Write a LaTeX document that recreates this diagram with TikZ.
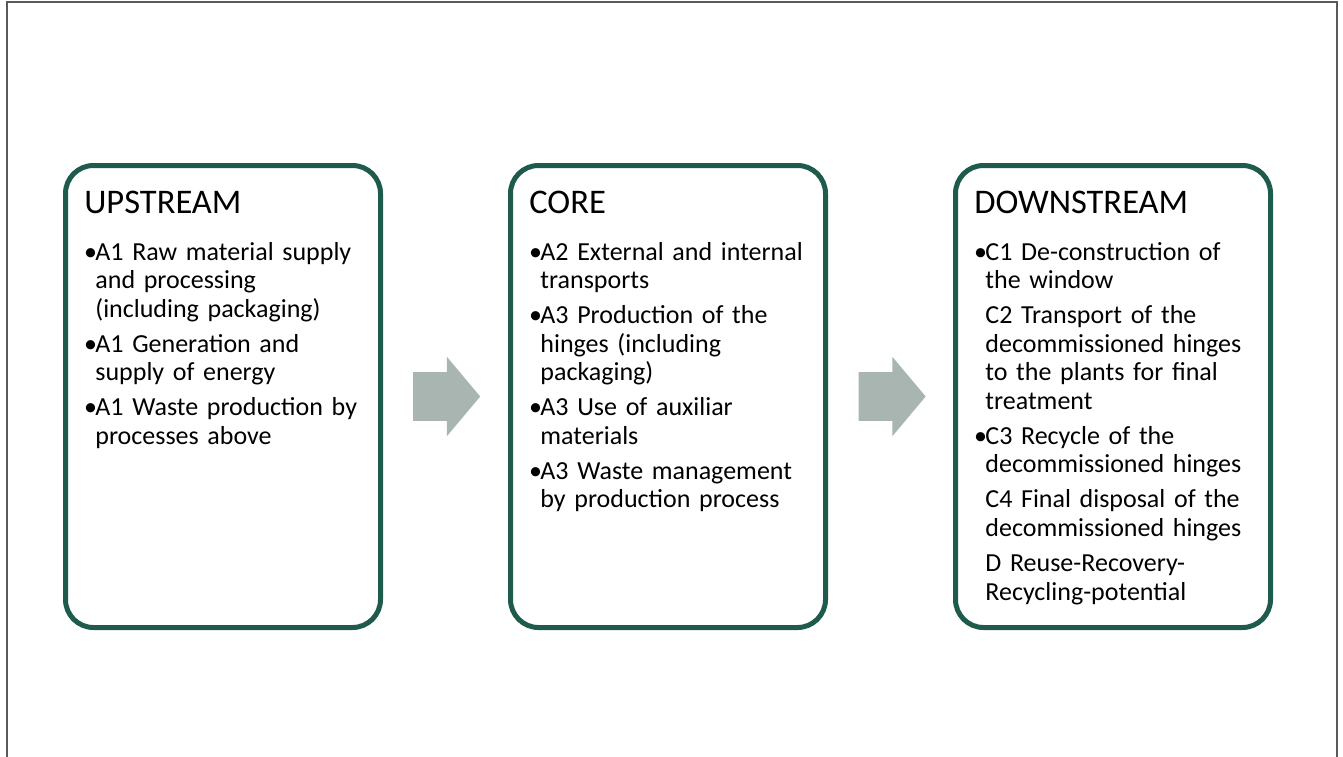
\documentclass[tikz,border=0pt]{standalone}
\usepackage{fontspec}
\setmainfont{Carlito}
\usepackage{tikz}
\usetikzlibrary{shapes.arrows}
\definecolor{stagegreen}{HTML}{1E5B4C}
\definecolor{flowgray}{HTML}{A9B5B0}
\definecolor{framegray}{HTML}{595959}
\tikzset{stage/.style={draw=stagegreen, line width=3.75pt, rounded corners=21pt,
    minimum width=236.25pt, minimum height=346.5pt, inner sep=0pt}}
\tikzset{stagehead/.style={anchor=base west, inner sep=0pt,
    font=\fontsize{25.9pt}{31pt}\selectfont}}
\tikzset{stagelist/.style={anchor=base west, inner sep=0pt, text width=250pt,
    align=left, font=\fontsize{19.5pt}{21.4pt}\selectfont}}
\tikzset{flow/.style={single arrow, fill=flowgray, single arrow head extend=11.6pt,
    single arrow tip angle=100, minimum height=50.25pt, inner xsep=0pt,
    inner ysep=18pt, outer sep=0pt}}
\newcommand{\bul}{\makebox[7.6pt][l]{\hspace*{-0.9pt}•}}
\newcommand{\ind}{\hspace*{7.6pt}}

\begin{document}
\begin{tikzpicture}[x=0.75pt, y=-0.75pt]
        \useasboundingbox (0,0) rectangle (1343,757);
        \draw[framegray, line width=1.5pt] (7,770) |- (1336.5,2) -- (1336.5,770);

            \node[stage] (up) at (223,396.5) {};
            \node[stage] (core) at (668,396.5) {};
            \node[stage] (down) at (1113,396.5) {};

            \node[flow] (F1) at (436.5,396.5) {};
            \node[flow] (F2) at (882,396.5) {};

            \node[stagehead] (uphead) at (84,213) {UPSTREAM};
            \node[stagehead] (corehead) at (529,213) {CORE};
            \node[stagehead] (downhead) at (974,213) {DOWNSTREAM};

            \node[stagelist] (uplist) at (85,260) {\bul A1 Raw material supply\\
                \ind and processing\\
                \ind (including packaging)\\[4.9pt]
                \bul A1 Generation and\\
                \ind supply of energy\\[4.9pt]
                \bul A1 Waste production by\\
                \ind processes above};
            \node[stagelist] (corelist) at (530,260) {\bul A2 External and internal\\
                \ind transports\\[4.9pt]
                \bul A3 Production of the\\
                \ind hinges (including\\
                \ind packaging)\\[4.9pt]
                \bul A3 Use of auxiliar\\
                \ind materials\\[4.9pt]
                \bul A3 Waste management\\
                \ind by production process};
            \node[stagelist] (downlist) at (975,260) {\bul C1 De-construction of\\
                \ind the window\\[4.9pt]
                \ind C2 Transport of the\\
                \ind decommissioned hinges\\
                \ind to the plants for final\\
                \ind treatment\\[4.9pt]
                \bul C3 Recycle of the\\
                \ind decommissioned hinges\\[4.9pt]
                \ind C4 Final disposal of the\\
                \ind decommissioned hinges\\[4.9pt]
                \ind D Reuse-Recovery-\\
                \ind Recycling-potential};

\end{tikzpicture}
\end{document}
